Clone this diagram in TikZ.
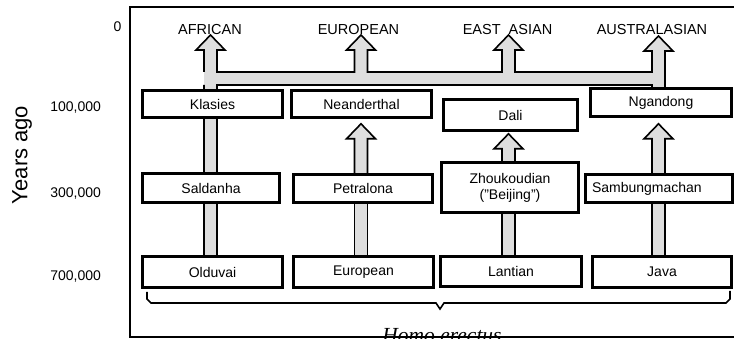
\documentclass[tikz,border=0pt]{standalone}
\usepackage{fontspec}
\setmainfont{Liberation Sans}
\newfontfamily\timesfont{Liberation Serif}
\usetikzlibrary{calc}

\tikzset{
  box/.style={draw, line width=1.6pt, fill=white, inner sep=0pt},
  fat/.style={draw, line width=1.6pt, fill=black!13, line join=miter},
  lab/.style={anchor=base, font=\fontsize{14.5}{16}\selectfont},
  tick/.style={anchor=base east},
}
% plain shaft and shaft with head, from #1 up to #2
\newcommand{\shaft}[2]{\filldraw[fat] ($(#1)+(-6.5,0)$) rectangle ($(#2)+(6.5,0)$);}
\newcommand{\fathead}[2]{\filldraw[fat] ($(#1)+(-6.5,0)$) -- ($(#2)+(-6.5,15)$) -- ($(#2)+(-14.5,15)$) -- (#2) -- ($(#2)+(14.5,15)$) -- ($(#2)+(6.5,15)$) -- ($(#1)+(6.5,0)$);}

\begin{document}
\begin{tikzpicture}[x=1pt, y=-1pt, font=\fontsize{14}{16}\selectfont]
\useasboundingbox (0,0) rectangle (734,339);
% columns and the bar
\coordinate (c1) at (210.5,0);
\coordinate (c2) at (361,0);
\coordinate (c3) at (508.5,0);
\coordinate (c4) at (658.5,0);
\coordinate (bt) at (0,72);
\coordinate (bb) at (0,85);

% top labels
\node[lab] (afr) at (210,35) {AFRICAN};
\node[lab] (eur) at (358.5,35) {EUROPEAN};
\node[lab] (eas) at (507.5,35) {EAST\ \ ASIAN};
\node[lab] (aus) at (652,35) {AUSTRALASIAN};
\coordinate (t1) at (c1 |- afr.base);
\coordinate (t2) at (c2 |- eur.base);
\coordinate (t3) at (c3 |- eas.base);
\coordinate (t4) at ($(c4 |- aus.base)+(0,1)$);

% sites
\node[box, minimum width=139, minimum height=26] (klasies) at (212.5,104) {Klasies};
\node[box, minimum width=139, minimum height=26] (neanderthal) at (361.5,104) {Neanderthal};
\node[box, minimum width=133, minimum height=30] (dali) at (510.5,115) {Dali};
\node[box, minimum width=140, minimum height=27] (ngandong) at (661,102.5) {Ngandong};
\node[box, minimum width=136, minimum height=28] (saldanha) at (211,188) {Saldanha};
\node[box, minimum width=138, minimum height=27] (petralona) at (363,188.5) {Petralona};
\node[box, minimum width=136, minimum height=49, align=center] (zhoukoudian) at (510,187.5) {Zhoukoudian\\("Beijing")};
\node[box, minimum width=146, minimum height=27, inner xsep=6, text width=134, align=left] (sambung) at (659,188.5) {Sambungmachan};
\node[box, minimum width=139, minimum height=30] (olduvai) at (212.5,272) {Olduvai};
\node[box, minimum width=139, minimum height=30] (european) at (363.5,272) {European};
\node[box, minimum width=140, minimum height=29] (lantian) at (511,271.5) {Lantian};
\node[box, minimum width=138, minimum height=30] (java) at (662,272) {Java};

% arrows between sites
\coordinate (tipN) at ($(neanderthal.south -| c2)+(0,6)$);
\coordinate (tipD) at ($(dali.south -| c3)+(0,3)$);
\coordinate (tipG) at ($(ngandong.south -| c4)+(0,7)$);
\shaft{olduvai.north -| c1}{saldanha.south -| c1}
\shaft{saldanha.north -| c1}{klasies.south -| c1}
\shaft{european.north -| c2}{petralona.south -| c2}
\fathead{petralona.north -| c2}{tipN}
\shaft{lantian.north -| c3}{zhoukoudian.south -| c3}
\fathead{zhoukoudian.north -| c3}{tipD}
\shaft{java.north -| c4}{sambung.south -| c4}
\fathead{sambung.north -| c4}{tipG}

% the bar and the four arrows to the top
\filldraw[fat] ($(c1 |- bb)+(-6.5,0)$) -- ($(klasies.north -| c1)+(-6.5,0)$)
  -- ($(klasies.north -| c1)+(6.5,0)$) -- ($(c1 |- bb)+(6.5,0)$)
  -- ($(c4 |- bb)+(-6.5,0)$) -- ($(ngandong.north -| c4)+(-6.5,0)$)
  -- ($(ngandong.north -| c4)+(6.5,0)$) -- ($(t4)+(6.5,15)$) -- ($(t4)+(14.5,15)$)
  -- (t4) -- ($(t4)+(-14.5,15)$) -- ($(t4)+(-6.5,15)$) -- ($(c4 |- bt)+(-6.5,0)$)
  \foreach \t/\c in {t3/c3, t2/c2, t1/c1}{
    -- ($(\c |- bt)+(6.5,0)$) -- ($(\t)+(6.5,15)$) -- ($(\t)+(14.5,15)$) -- (\t)
    -- ($(\t)+(-14.5,15)$) -- ($(\t)+(-6.5,15)$) -- ($(\c |- bt)+(-6.5,0)$)
  };

% redraw the boxes over the shafts
\foreach \b in {klasies, neanderthal, dali, ngandong, saldanha, petralona, zhoukoudian, sambung, olduvai, european, lantian, java}
  \draw[line width=1.6pt] (\b.south west) rectangle (\b.north east);

% time axis
\node[tick] (y0) at (125,32) {0};
\node[tick] (y1) at (104.5,112) {100,000};
\node[tick] (y3) at (104.5,198) {300,000};
\node[tick] (y7) at (104.5,281) {700,000};
\node[rotate=90, font=\fontsize{22}{24}\selectfont] (years) at (22,155) {Years ago};

% brace and name
\draw[line width=1.6pt] (147,292) -- (147,299) -- (151,303) -- (436,303) -- (440,309)
  -- (444,303) -- (726,303) -- (730,299) -- (730,291);
\node[anchor=base, font=\timesfont\itshape\fontsize{21.5}{24}\selectfont] (homo) at (442,342) {Homo erectus};

% frame
\draw[line width=1.8pt] (745,7) -- (130,7) -- (130,337) -- (745,337);
\end{tikzpicture}
\end{document}
